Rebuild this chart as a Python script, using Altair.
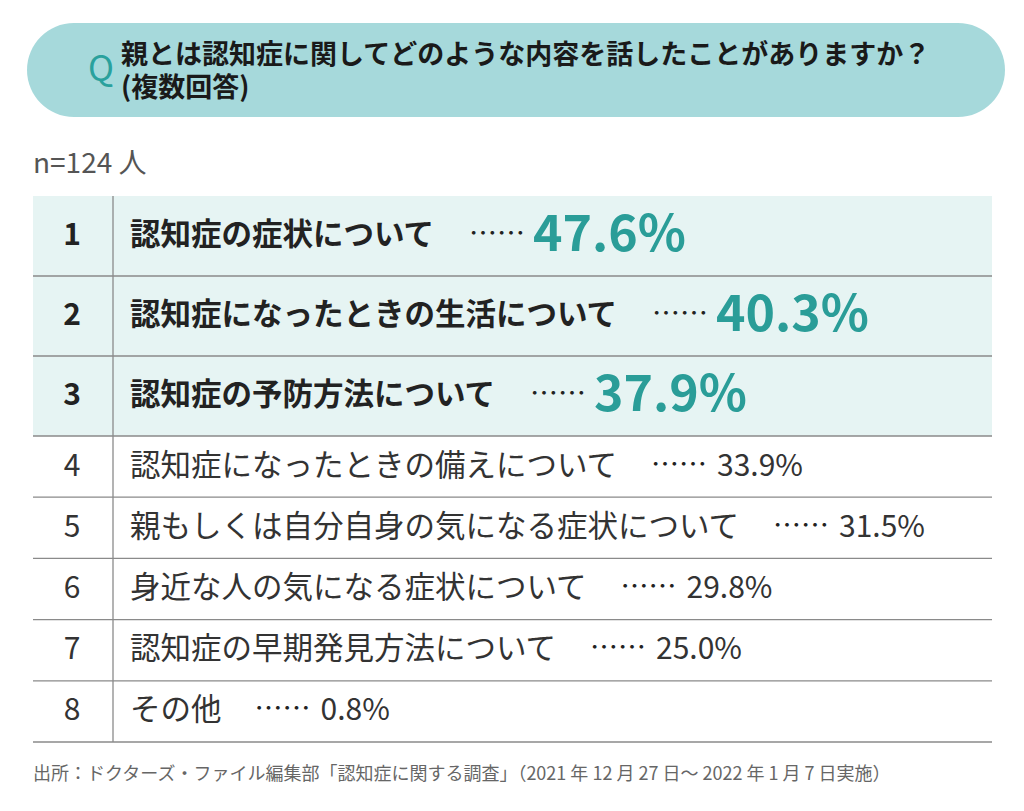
import altair as alt
import pandas as pd

# ---- data ----
ranks = [1, 2, 3, 4, 5, 6, 7, 8]
labels = [
    "認知症の症状について",
    "認知症になったときの生活について",
    "認知症の予防方法について",
    "認知症になったときの備えについて",
    "親もしくは自分自身の気になる症状について",
    "身近な人の気になる症状について",
    "認知症の早期発見方法について",
    "その他",
]
values = [47.6, 40.3, 37.9, 33.9, 31.5, 29.8, 25.0, 0.8]

title_lines = ["親とは認知症に関してどのような内容を話したことがありますか？", "(複数回答)"]
n_text = "n=124 人"
source_text = "出所：ドクターズ・ファイル編集部「認知症に関する調査」（2021 年 12 月 27 日～ 2022 年 1 月 7 日実施）"

# ---- layout constants (pixel space of the page) ----
FONT = "Noto Sans CJK JP"
TABLE_L, TABLE_R = 33, 992
DIVIDER_X = 113
RANK_X = 72
LABEL_X = 130
CHAR_W = 30.5
TOP = 196
H_BIG, H_SMALL = 80, 61.2

rows = []
y = TOP
for r, lab, v in zip(ranks, labels, values):
    h = H_BIG if r <= 3 else H_SMALL
    big = r <= 3
    dots_x = LABEL_X + len(lab) * CHAR_W + (34 if big else 33)
    rows.append(dict(
        rank=r, label=lab, value=v, pct=f"{v:.1f}%", big=big,
        y0=y, y1=y + h, yc=y + h / 2,
        x_l=TABLE_L, x_r=TABLE_R, rank_x=RANK_X, label_x=LABEL_X,
        dots_x=dots_x, pct_x=dots_x + 56 + (8 if big else 10), dots="……",
    ))
    y += h
df = pd.DataFrame(rows)

W, H = 1008, 795
xs = alt.Scale(domain=[8, 8 + W])
ys = alt.Scale(domain=[8 + H, 8])


def X(f):
    return alt.X(f, type="quantitative", scale=xs, axis=None)


def Y(f):
    return alt.Y(f, type="quantitative", scale=ys, axis=None)


base = alt.Chart(df)

# header pill
pill_df = pd.DataFrame([dict(x=27, x2=1005, y=23, y2=117)])
pill = alt.Chart(pill_df).mark_rect(cornerRadius=47, color="#a6d9db").encode(
    x=X("x"), x2="x2", y=Y("y"), y2="y2")

hdr_df = pd.DataFrame([dict(x=121, y=43, t="\n".join(title_lines))])
hdr = alt.Chart(hdr_df).mark_text(
    font=FONT, fontSize=27, fontWeight="bold", align="left", baseline="top",
    lineBreak="\n", lineHeight=33, color="#1a1a1a"
).encode(x=X("x"), y=Y("y"), text="t:N")

q_df = pd.DataFrame([dict(x=101, y=70, t="Q")])
q = alt.Chart(q_df).mark_text(
    font=FONT, fontSize=35, align="center", baseline="middle", color="#2aa19d"
).encode(x=X("x"), y=Y("y"), text="t:N")

n_df = pd.DataFrame([dict(x=33, y=165, t=n_text)])
ntxt = alt.Chart(n_df).mark_text(
    font=FONT, fontSize=28, align="left", baseline="middle", color="#555555"
).encode(x=X("x"), y=Y("y"), text="t:N")

# table
shade = base.transform_filter("datum.big").mark_rect(color="#e6f4f3").encode(
    x=X("x_l"), x2="x_r", y=Y("y0"), y2="y1")

hlines = base.mark_rule(color="#8a8a8a", strokeWidth=1.3).encode(
    x=X("x_l"), x2="x_r", y=Y("y1"))

div_df = pd.DataFrame([dict(x=DIVIDER_X, y=TOP, y2=df["y1"].max())])
divider = alt.Chart(div_df).mark_rule(color="#8a8a8a", strokeWidth=1.3).encode(
    x=X("x"), y=Y("y"), y2="y2")

rank_b = base.transform_filter("datum.big").mark_text(
    font=FONT, fontSize=30, fontWeight="bold", align="center", baseline="middle", color="#222222"
).encode(x=X("rank_x"), y=Y("yc"), text="rank:N")
rank_r = base.transform_filter("!datum.big").mark_text(
    font=FONT, fontSize=30, align="center", baseline="middle", color="#333333"
).encode(x=X("rank_x"), y=Y("yc"), text="rank:N")

label_b = base.transform_filter("datum.big").mark_text(
    font=FONT, fontSize=CHAR_W, fontWeight="bold", align="left", baseline="middle", color="#222222"
).encode(x=X("label_x"), y=Y("yc"), text="label:N")
label_r = base.transform_filter("!datum.big").mark_text(
    font=FONT, fontSize=CHAR_W, align="left", baseline="middle", color="#333333"
).encode(x=X("label_x"), y=Y("yc"), text="label:N")

dots = base.mark_text(
    font=FONT, fontSize=28, align="left", baseline="middle", color="#222222"
).encode(x=X("dots_x"), y=Y("yc"), text="dots:N")

pct_b = base.transform_filter("datum.big").mark_text(
    font=FONT, fontSize=50, fontWeight="bold", align="left", baseline="middle", color="#2a9d98"
).encode(x=X("pct_x"), y=Y("yc"), text="pct:N")
pct_r = base.transform_filter("!datum.big").mark_text(
    font=FONT, fontSize=30, align="left", baseline="middle", color="#333333"
).encode(x=X("pct_x"), y=Y("yc"), text="pct:N")

src_df = pd.DataFrame([dict(x=33, y=775, t=source_text)])
src = alt.Chart(src_df).mark_text(
    font=FONT, fontSize=18, align="left", baseline="middle", color="#666666"
).encode(x=X("x"), y=Y("y"), text="t:N")

chart = alt.layer(
    pill, hdr, q, ntxt, shade, hlines, divider,
    rank_b, rank_r, label_b, label_r, dots, pct_b, pct_r, src
).properties(
    width=W, height=H, autosize=alt.AutoSizeParams(type="none"), padding=0,
    background="white"
).configure_view(stroke=None)

chart.save("out.html", embed_options={"renderer": "svg", "actions": False})
